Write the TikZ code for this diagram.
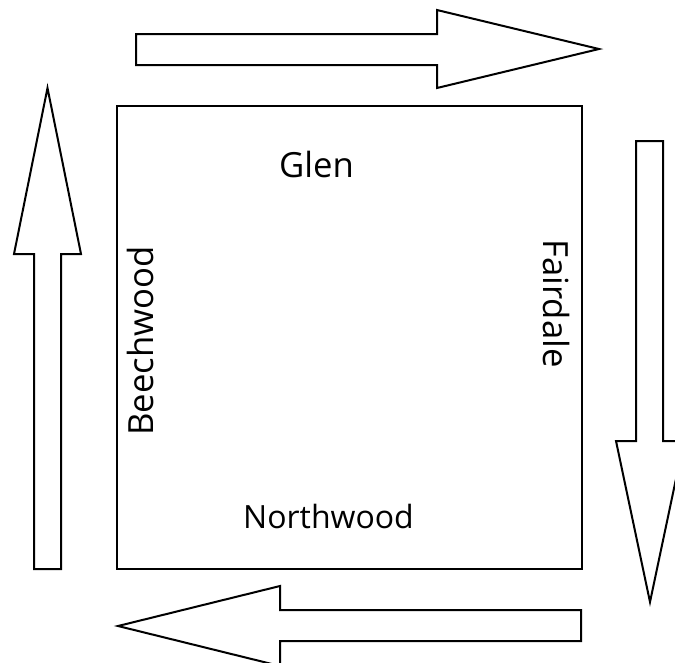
\documentclass[tikz,border=0pt]{standalone}
\usepackage{fontspec}
\setmainfont{Open Sans}

\tikzset{
  blockarrow/.style={draw=black, line width=1.5pt, line join=miter, fill=white},
  street/.style={font=\fontsize{26}{30}\selectfont, inner sep=0pt, anchor=base}
}

\begin{document}
\begin{tikzpicture}[x=0.75pt,y=-0.75pt]
\useasboundingbox (0,0) rectangle (675,662);
  \draw[line width=1.5pt] (117,106) rectangle (582,569);
  % one-way arrows round the block
  \draw[blockarrow] (136,34)--(437,34)--(437,10)--(599,49)--(437,88)--(437,65)--(136,65)--cycle;
  \draw[blockarrow] (636,141)--(663,141)--(663,441)--(684,441)--(650,602)--(616,441)--(636,441)--cycle;
  \draw[blockarrow] (581,610)--(280,610)--(280,586)--(118,626)--(280,666)--(280,641)--(581,641)--cycle;
  \draw[blockarrow] (34,569)--(34,254)--(14,254)--(47.5,88)--(81,254)--(61,254)--(61,569)--cycle;

  \node[street] (glen) at (316.5,177) {Glen};
  \node[street, font=\fontsize{24}{28}\selectfont] (northwood) at (328.5,528) {Northwood};
  \node[street, rotate=90] (beechwood) at (153,341) {Beechwood};
  \node[street, rotate=-90] (fairdale) at (543,303.5) {Fairdale};
 \end{tikzpicture}
\end{document}
